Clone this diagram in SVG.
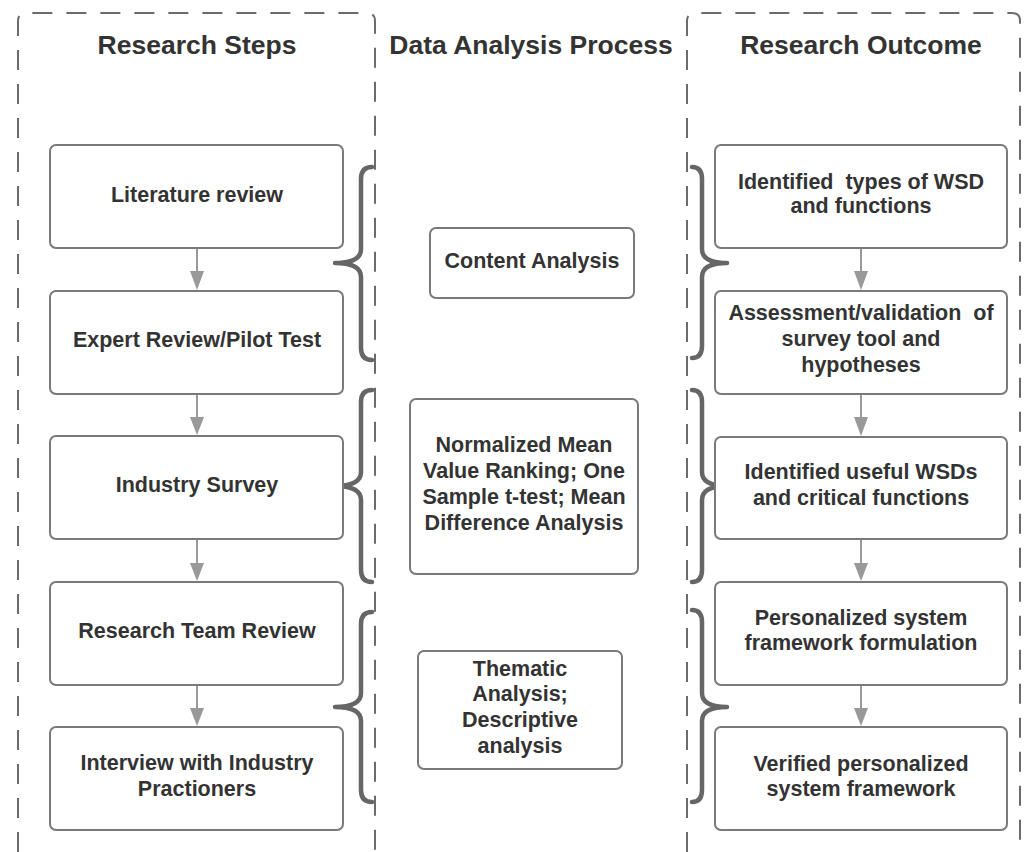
<svg xmlns="http://www.w3.org/2000/svg" width="1025" height="852" viewBox="0 0 1025 852">
<defs>
<style>
.lane{fill:none;stroke:#6b6b6b;stroke-width:2;stroke-dasharray:20 14}
.box{fill:#fff;stroke:#7a7a7a;stroke-width:2}
.t{font-family:"Liberation Sans",Arial,sans-serif;font-weight:bold;font-size:21.5px;fill:#333;text-anchor:middle;white-space:pre}
.title{font-family:"Liberation Sans",Arial,sans-serif;font-weight:bold;font-size:26.5px;fill:#333;text-anchor:middle}
.arr{stroke:#999;stroke-width:2;fill:none}
.brace{fill:none;stroke:#666;stroke-width:4.5;stroke-linecap:round;stroke-linejoin:round}
</style>
<marker id="ah" viewBox="0 0 14 20" refX="14" refY="7" markerWidth="14" markerHeight="20" markerUnits="userSpaceOnUse" orient="auto">
<path d="M0,0 L20,7 L0,14 Z" fill="#999" transform="scale(0.7,1)"/>
</marker>
</defs>
<rect width="1025" height="852" fill="#fff"/>
<g id="lanes">
<path class="lane" d="M18,852 L18,21 Q18,13 26,13 L367,13 Q375,13 375,21 L375,852"/>
<path class="lane" d="M687,852 L687,21 Q687,13 695,13 L1012,13 Q1020,13 1020,21 L1020,852"/>
<text class="title" x="197" y="54">Research Steps</text>
<text class="title" x="531" y="54">Data Analysis Process</text>
<text class="title" x="861" y="54">Research Outcome</text>
</g>
<g id="connectors">
<path class="arr" d="M197,248 L197,272"/><path d="M190,271 L204,271 L197,290 Z" fill="#999"/>
<path class="arr" d="M197,394 L197,418"/><path d="M190,417 L204,417 L197,435 Z" fill="#999"/>
<path class="arr" d="M197,539 L197,564"/><path d="M190,563 L204,563 L197,581 Z" fill="#999"/>
<path class="arr" d="M197,685 L197,709"/><path d="M190,708 L204,708 L197,726 Z" fill="#999"/>
<path class="arr" d="M861,248 L861,272"/><path d="M854,271 L868,271 L861,290 Z" fill="#999"/>
<path class="arr" d="M861,394 L861,418"/><path d="M854,417 L868,417 L861,436 Z" fill="#999"/>
<path class="arr" d="M861,539 L861,564"/><path d="M854,563 L868,563 L861,581 Z" fill="#999"/>
<path class="arr" d="M861,685 L861,709"/><path d="M854,708 L868,708 L861,726 Z" fill="#999"/>
</g>
<g id="braces">
<path class="brace" d="M372,167 Q361,167 361,179 L361,249 Q361,263 335,263 Q361,263 361,277 L361,348 Q361,360 372,360"/>
<path class="brace" d="M372,390 Q361,390 361,402 L361,472 Q361,486 335,486 Q361,486 361,500 L361,570 Q361,582 372,582"/>
<path class="brace" d="M372,612 Q361,612 361,624 L361,693 Q361,707 335,707 Q361,707 361,721 L361,790 Q361,802 372,802"/>
<path class="brace" d="M692,167 Q702,167 702,179 L702,249 Q702,263 727,263 Q702,263 702,277 L702,346 Q702,358 692,358"/>
<path class="brace" d="M692,390 Q702,390 702,402 L702,472 Q702,486 727,486 Q702,486 702,500 L702,570 Q702,582 692,582"/>
<path class="brace" d="M692,610 Q702,610 702,622 L702,693 Q702,707 727,707 Q702,707 702,721 L702,790 Q702,802 692,802"/>
</g>
<g id="n_lit"><rect class="box" x="50" y="145" width="293" height="103" rx="6"/><text class="t" x="197" y="202">Literature review</text></g>
<g id="n_expert"><rect class="box" x="50" y="291" width="293" height="103" rx="6"/><text class="t" x="197" y="347">Expert Review/Pilot Test</text></g>
<g id="n_survey"><rect class="box" x="50" y="436" width="293" height="103" rx="6"/><text class="t" x="197" y="492">Industry Survey</text></g>
<g id="n_team"><rect class="box" x="50" y="582" width="293" height="103" rx="6"/><text class="t" x="197" y="638">Research Team Review</text></g>
<g id="n_interview"><rect class="box" x="50" y="727" width="293" height="103" rx="6"/><text class="t" x="197" y="770">Interview with Industry</text><text class="t" x="197" y="796">Practioners</text></g>
<g id="n_content"><rect class="box" x="430" y="228" width="204" height="70" rx="6"/><text class="t" x="532" y="268">Content Analysis</text></g>
<g id="n_norm"><rect class="box" x="410" y="399" width="228" height="175" rx="6"/><text class="t" x="524" y="452">Normalized Mean</text><text class="t" x="524" y="478">Value Ranking; One</text><text class="t" x="524" y="504">Sample t-test; Mean</text><text class="t" x="524" y="530">Difference Analysis</text></g>
<g id="n_thematic"><rect class="box" x="418" y="651" width="204" height="118" rx="6"/><text class="t" x="520" y="676">Thematic</text><text class="t" x="520" y="701">Analysis;</text><text class="t" x="520" y="727">Descriptive</text><text class="t" x="520" y="753">analysis</text></g>
<g id="n_types"><rect class="box" x="715" y="145" width="292" height="103" rx="6"/><text class="t" x="861" y="189">Identified  types of WSD</text><text class="t" x="861" y="213">and functions</text></g>
<g id="n_assess"><rect class="box" x="715" y="291" width="292" height="103" rx="6"/><text class="t" x="861" y="320">Assessment/validation  of</text><text class="t" x="861" y="346">survey tool and</text><text class="t" x="861" y="372">hypotheses</text></g>
<g id="n_useful"><rect class="box" x="715" y="437" width="292" height="102" rx="6"/><text class="t" x="861" y="479">Identified useful WSDs</text><text class="t" x="861" y="505">and critical functions</text></g>
<g id="n_formulation"><rect class="box" x="715" y="582" width="292" height="103" rx="6"/><text class="t" x="861" y="625">Personalized system</text><text class="t" x="861" y="650">framework formulation</text></g>
<g id="n_verified"><rect class="box" x="715" y="727" width="292" height="103" rx="6"/><text class="t" x="861" y="771">Verified personalized</text><text class="t" x="861" y="796">system framework</text></g>
</svg>
